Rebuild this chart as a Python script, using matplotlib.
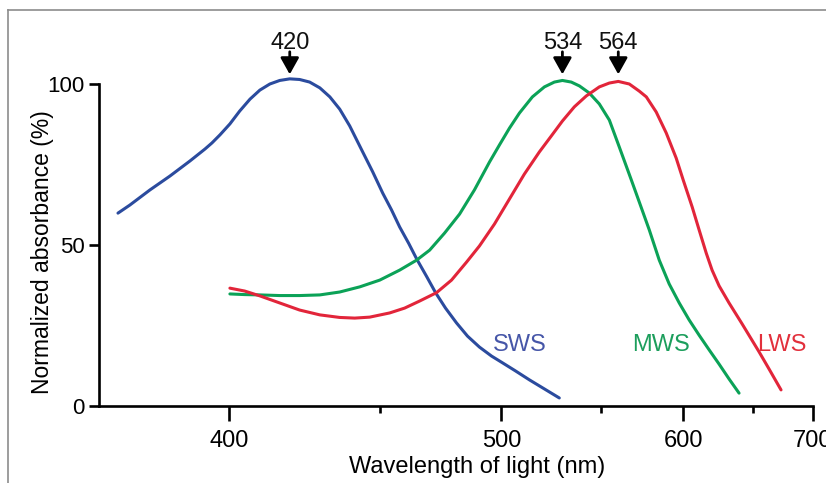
import matplotlib
matplotlib.use('Agg')
import matplotlib.pyplot as plt
import numpy as np
from matplotlib.lines import Line2D
from matplotlib.ticker import FixedLocator, FixedFormatter

plt.rcParams['font.family'] = ['Liberation Sans', 'DejaVu Sans']

# ---- data ----
sws_wl = [369.9, 372.9, 378.1, 383.4, 388.9, 393.1, 395.1, 397.4, 400.3, 403.2, 406.3,
          409.3, 412.4, 415.5, 418.7, 421.9, 425.2, 428.6, 432.0, 435.4, 438.9, 443.2,
          447.2, 450.9, 454.2, 457.3, 460.8, 463.9, 467.9, 471.5, 475.6, 480.2, 484.9,
          490.1, 495.5, 500.5, 506.5, 513.2, 520.5, 528.0]
sws_abs = [59.9, 62.4, 67.1, 71.4, 76.1, 79.8, 81.7, 84.2, 87.6, 91.6, 95.3,
           98.1, 100.0, 101.1, 101.6, 101.4, 100.6, 98.8, 96.0, 92.2, 87.0, 79.5,
           72.7, 66.1, 60.9, 55.6, 50.5, 45.7, 40.2, 35.2, 30.4, 25.8, 21.7,
           18.3, 15.5, 13.4, 10.9, 8.1, 5.3, 2.5]

mws_wl = [400.3, 404.7, 409.3, 415.5, 421.9, 428.6, 435.4, 442.5, 449.8, 457.3, 463.9,
          469.1, 475.2, 481.5, 487.9, 494.6, 499.1, 503.7, 508.4, 514.6, 520.5, 525.5,
          529.6, 534.2, 538.5, 543.8, 549.3, 554.9, 560.6, 567.6, 572.3, 578.4, 584.6,
          590.9, 597.4, 604.0, 610.7, 617.7, 624.7, 631.9, 639.3]
mws_abs = [34.8, 34.6, 34.5, 34.3, 34.3, 34.5, 35.4, 37.0, 39.1, 42.2, 45.3,
           48.4, 53.7, 59.6, 67.1, 75.8, 81.1, 86.3, 91.0, 96.0, 99.1, 100.6,
           101.1, 100.6, 99.4, 97.2, 93.8, 88.8, 80.4, 70.2, 63.4, 54.7, 45.3,
           37.9, 32.0, 26.7, 22.0, 17.4, 13.0, 8.4, 4.0]

lws_wl = [400.3, 404.7, 409.3, 415.5, 421.9, 428.6, 435.4, 440.7, 446.1, 453.5, 459.2,
          465.1, 471.9, 478.1, 484.5, 490.1, 496.8, 503.7, 510.7, 518.0, 524.0, 529.6,
          535.8, 542.2, 549.3, 554.9, 560.0, 566.4, 572.3, 576.6, 582.7, 589.0, 595.4,
          600.0, 606.0, 610.7, 615.6, 619.7, 624.7, 631.9, 641.6, 654.7, 662.6, 672.4]
lws_abs = [36.6, 35.7, 34.2, 32.0, 29.8, 28.3, 27.5, 27.3, 27.6, 28.9, 30.4,
           32.6, 35.2, 39.1, 44.7, 49.7, 56.5, 64.3, 72.0, 78.9, 83.9, 88.5,
           92.9, 96.3, 99.1, 100.3, 100.8, 100.0, 97.8, 96.0, 91.3, 84.8, 77.0,
           70.2, 61.8, 54.7, 47.5, 42.2, 37.3, 32.0, 25.5, 16.8, 11.5, 5.0]

series_names = ['SWS', 'MWS', 'LWS']
peak_labels = ['420', '534', '564']
x_major = [400, 500, 600, 700]
x_minor = [450, 550, 650]
y_ticks = [0, 50, 100]

line_colors = ['#2b4b9e', '#0ba257', '#e2253a']
text_colors = ['#4656a8', '#1c9e5c', '#e2303c']

W, H = 826, 483
fig = plt.figure(figsize=(W / 100, H / 100), dpi=100)
ax = fig.add_axes([99 / W, (H - 406) / H, 714 / W, 322 / H])

fwd = lambda x: -1.0 / np.asarray(x, dtype=float)
inv = lambda y: -1.0 / np.asarray(y, dtype=float)
ax.set_xscale('function', functions=(fwd, inv))
ax.set_xlim(365.2, 700)
ax.set_ylim(0, 100)

data = [(sws_wl, sws_abs), (mws_wl, mws_abs), (lws_wl, lws_abs)]
for (wl, ab), col in zip(data, line_colors):
    ax.plot(wl, ab, color=col, lw=2.2, clip_on=False,
            solid_capstyle='round', solid_joinstyle='round')

# peak arrows
for (wl, ab), lab in zip(data, peak_labels):
    i = int(np.argmax(ab))
    x = wl[i]
    ax.annotate('', xy=(x, 103.0), xytext=(x, 110.0),
                arrowprops=dict(arrowstyle='-|>,head_length=0.5,head_width=0.28',
                                color='black', lw=2.0, mutation_scale=20,
                                shrinkA=0, shrinkB=0),
                annotation_clip=False)
    ax.text(x, 110.8, lab, ha='center', va='baseline', fontsize=17, color='#111111')

# series labels
label_pos = [(495.9, 18.9), (568.2, 18.9), (653.1, 18.9)]
for name, (lx, ly), col in zip(series_names, label_pos, text_colors):
    ax.text(lx, ly, name, ha='left', va='center', fontsize=17, color=col)

# axes styling
for s in ['top', 'right']:
    ax.spines[s].set_visible(False)
for s in ['left', 'bottom']:
    ax.spines[s].set_linewidth(1.9)
    ax.spines[s].set_color('black')

ax.xaxis.set_major_locator(FixedLocator(x_major))
ax.xaxis.set_major_formatter(FixedFormatter([str(v) for v in x_major]))
ax.xaxis.set_minor_locator(FixedLocator(x_minor))
ax.xaxis.set_minor_formatter(FixedFormatter([''] * len(x_minor)))
ax.set_yticks(y_ticks)
ax.set_yticklabels([str(v) for v in y_ticks])

ax.tick_params(axis='x', which='major', length=11, width=1.9, pad=6,
               labelsize=17, colors='black')
ax.tick_params(axis='x', which='minor', length=5, width=1.9)
ax.tick_params(axis='y', which='major', length=7.5, width=1.9, pad=3,
               labelsize=16, colors='black')

ax.set_xlabel('Wavelength of light (nm)', fontsize=17)
ax.xaxis.set_label_coords((477 - 99) / 714, -(467 - 406) / 322)
ax.set_ylabel('Normalized absorbance (%)', fontsize=16.5)
ax.yaxis.set_label_coords(-(99 - 42) / 714, (406 - 252) / 322)
ax.xaxis.label.set_va('center')
ax.yaxis.label.set_va('center')

# grey frame of the panel
fig.add_artist(Line2D([8 / W, 8 / W], [0, 1 - 10 / H], transform=fig.transFigure,
                      color='#8c8c8c', lw=1.2))
fig.add_artist(Line2D([8 / W, 1], [1 - 10 / H, 1 - 10 / H], transform=fig.transFigure,
                      color='#8c8c8c', lw=1.2))

fig.savefig('out.png', dpi=100)
